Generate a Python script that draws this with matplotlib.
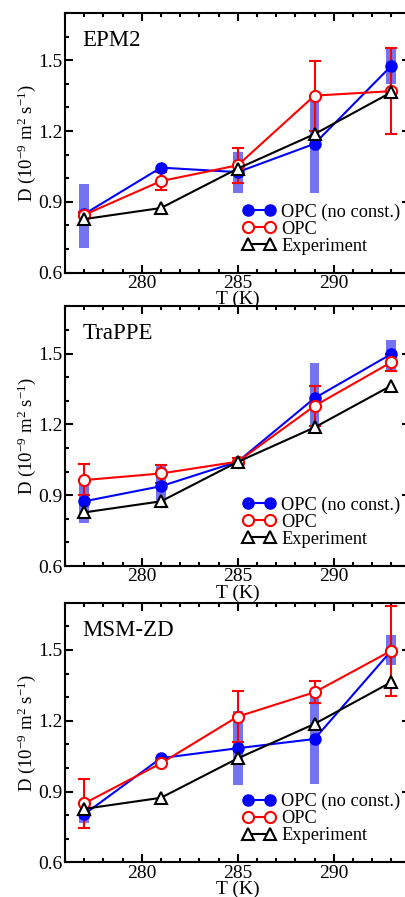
import matplotlib
matplotlib.use('Agg')
import matplotlib.pyplot as plt
from matplotlib.ticker import MultipleLocator
import numpy as np

plt.rcParams['font.family'] = ['Liberation Serif', 'DejaVu Serif']
plt.rcParams['mathtext.fontset'] = 'custom'
plt.rcParams['mathtext.rm'] = 'Liberation Serif'
plt.rcParams['mathtext.it'] = 'Liberation Serif:italic'

nan = np.nan

# temperatures (K)
temps = [277, 281, 285, 289, 293]
exp_D = [0.827, 0.874, 1.041, 1.187, 1.364]

models = ['EPM2', 'TraPPE', 'MSM-ZD']

# OPC (no constraints): value, shaded range low/high
blue_D = [
    [0.848, 1.045, 1.026, 1.146, 1.476],
    [0.874, 0.938, 1.042, 1.311, 1.498],
    [0.804, 1.042, 1.084, 1.123, 1.497],
]
blue_lo = [
    [0.703, nan, 0.939, 0.939, 1.400],
    [0.782, 0.856, nan, 1.158, 1.427],
    [0.768, nan, 0.928, 0.931, 1.435],
]
blue_hi = [
    [0.977, nan, 1.111, 1.329, 1.552],
    [0.952, 1.030, nan, 1.460, 1.559],
    [0.822, nan, 1.240, 1.310, 1.562],
]

# OPC: value, error bar low/high
red_D = [
    [0.845, 0.988, 1.055, 1.350, 1.369],
    [0.964, 0.992, 1.042, 1.278, 1.463],
    [0.850, 1.020, 1.218, 1.321, 1.497],
]
red_lo = [
    [0.835, 0.949, 0.980, 1.200, 1.189],
    [0.899, 0.952, 1.028, 1.193, 1.427],
    [0.744, 1.010, 1.112, 1.275, 1.307],
]
red_hi = [
    [0.855, 1.026, 1.128, 1.498, 1.552],
    [1.030, 1.028, 1.056, 1.363, 1.498],
    [0.954, 1.030, 1.325, 1.367, 1.685],
]

fig = plt.figure(figsize=(4.05, 8.97), dpi=100)
bottoms = [0.696, 0.369, 0.0385]

for i, name in enumerate(models):
    ax = fig.add_axes([0.1605, bottoms[i], 0.853, 0.2895])
    t = np.array(temps, dtype=float)
    lo = np.array(blue_lo[i])
    hi = np.array(blue_hi[i])
    ok = ~np.isnan(lo)
    ax.bar(t[ok], hi[ok] - lo[ok], bottom=lo[ok], width=0.5,
           color='#7474f2', linewidth=0, zorder=1)

    ax.plot(temps, blue_D[i], color='blue', lw=1.5, marker='o', ms=8,
            mfc='blue', mec='blue', zorder=3, label='OPC (no const.)')
    rd = np.array(red_D[i])
    yerr = [rd - np.array(red_lo[i]), np.array(red_hi[i]) - rd]
    ax.errorbar(temps, red_D[i], yerr=yerr, fmt='none', ecolor='red',
                elinewidth=1.5, capsize=4.5, capthick=1.5, zorder=2)
    ax.plot(temps, red_D[i], color='red', lw=1.5, marker='o', ms=8,
            mfc='white', mec='red', mew=1.5, zorder=4, label='OPC')
    ax.plot(temps, exp_D, color='black', lw=1.5, marker='^', ms=8,
            mfc='white', mec='black', mew=1.5, zorder=5, label='Experiment')

    ax.set_xlim(276, 294)
    ax.set_ylim(0.6, 1.7)
    ax.xaxis.set_major_locator(MultipleLocator(5))
    ax.xaxis.set_minor_locator(MultipleLocator(1))
    ax.yaxis.set_major_locator(MultipleLocator(0.3))
    ax.yaxis.set_minor_locator(MultipleLocator(0.1))
    ax.yaxis.set_major_formatter(matplotlib.ticker.FormatStrFormatter('%.1f'))
    ax.tick_params(which='both', direction='in', top=True, right=True,
                   labelsize=14, width=1.5, pad=1.5)
    ax.tick_params(which='major', length=6)
    ax.tick_params(which='minor', length=3)
    for s in ax.spines.values():
        s.set_linewidth(1.5)

    ax.set_xlabel('T (K)', fontsize=14, labelpad=-0.5)
    ax.set_ylabel(r'D (10$^{-9}$ m$^{2}$ s$^{-1}$)', fontsize=13.5, labelpad=0)
    ax.text(0.05, 0.935, name, transform=ax.transAxes, fontsize=16.5,
            va='top', ha='left')
    ax.legend(loc='lower left', bbox_to_anchor=(0.515, 0.07), frameon=False,
              fontsize=13.2, numpoints=2, handlelength=1.8,
              handletextpad=0.3, labelspacing=0.0, borderpad=0,
              borderaxespad=0)

fig.savefig('out.png', dpi=100)
